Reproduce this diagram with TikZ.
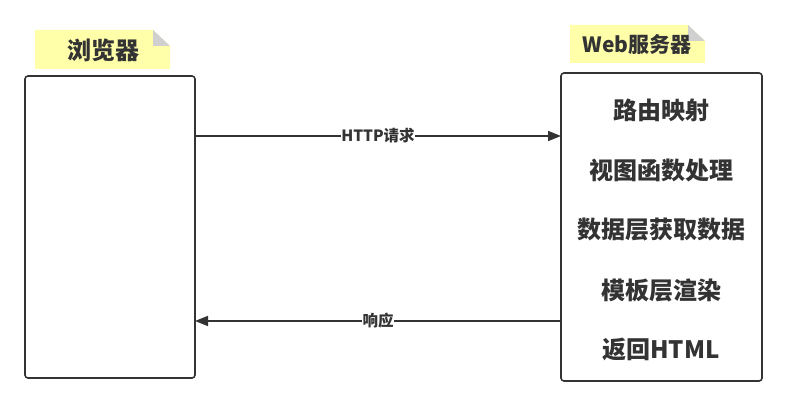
\documentclass[tikz,border=0pt]{standalone}
\usepackage{fontspec}
\setmainfont{Noto Sans CJK SC}
\usepackage{tikz}
\usetikzlibrary{arrows.meta}
\definecolor{ink}{HTML}{333333}
\definecolor{notefill}{HTML}{FFFFAA}
\definecolor{foldgray}{HTML}{D0D0D0}
\tikzset{
  box/.style={draw=ink,line width=1.6pt,rounded corners=3pt},
  item/.style={text=ink,font=\fontsize{24}{26}\selectfont\bfseries},
  title/.style={text=ink,font=\fontsize{24}{26}\selectfont\bfseries},
  msg/.style={draw=ink,line width=1.6pt,-{Triangle[length=13pt,width=10pt]}},
  lbl/.style={fill=white,inner sep=0.5pt,text=ink,font=\fontsize{15.5}{17}\selectfont\bfseries}
}

\begin{document}
\begin{tikzpicture}[x=1pt,y=-1pt]
  \useasboundingbox (0,0) rectangle (787,406);

  %browser and server boxes
  \draw[box] (25,76) rectangle (195,378);
  \draw[box] (561,73) rectangle (762,381);
  \coordinate (browser) at (195,0);
  \coordinate (server) at (561,0);

  %sticky notes
  \fill[notefill] (35,30) -- (153,30) -- (170,46) -- (170,69) -- (35,69) -- cycle;
  \fill[foldgray] (153,30) -- (153,46) -- (170,46) -- cycle;
  \node[title] (browsertitle) at (103,50) {浏览器};
  \fill[notefill] (570,25) -- (688,25) -- (705,41) -- (705,63) -- (570,63) -- cycle;
  \fill[foldgray] (688,25) -- (688,41) -- (705,41) -- cycle;
  \node[title,font=\fontsize{21}{24}\selectfont\bfseries] (servertitle) at (637,45) {Web服务器};

  %steps on the server side
  \foreach \t [count=\i] in {路由映射,视图函数处理,数据层获取数据,模板层渲染,返回HTML}
    \node[item] (step\i) at (661,50+60*\i) {\t};

  %request and response
  \coordinate (req) at (0,136);
  \coordinate (resp) at (0,321);
  \draw[msg] (browser |- req) -- node[lbl] {HTTP请求} (server |- req);
  \draw[msg] (server |- resp) -- node[lbl] {响应} (browser |- resp);
\end{tikzpicture}
\end{document}
